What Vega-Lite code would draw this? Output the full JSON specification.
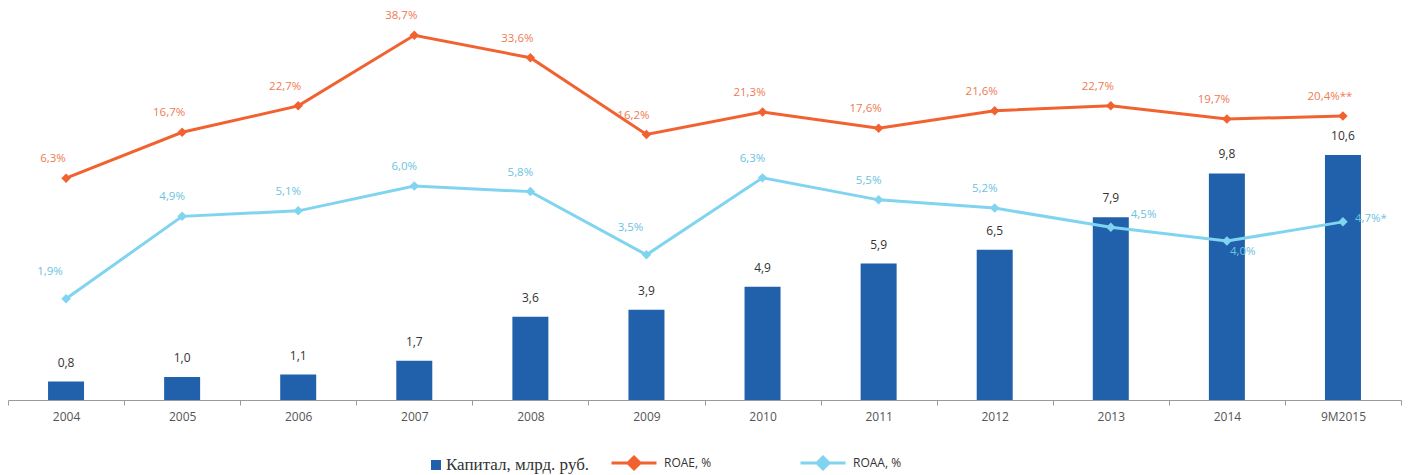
{
"$schema": "https://vega.github.io/schema/vega-lite/v6.json",
"width": 1393,
"height": 400,
"autosize": {"type": "none"},
"padding": {"left": 8, "top": 0, "right": 7, "bottom": 75},
"background": "white",
"data": {"values": [
{"year": "2004", "cap": 0.8, "roae": 6.3, "roae_lbl": "6,3%", "roaa": 1.9, "roaa_lbl": "1,9%"},
{"year": "2005", "cap": 1.0, "roae": 16.7, "roae_lbl": "16,7%", "roaa": 4.9, "roaa_lbl": "4,9%"},
{"year": "2006", "cap": 1.1, "roae": 22.7, "roae_lbl": "22,7%", "roaa": 5.1, "roaa_lbl": "5,1%"},
{"year": "2007", "cap": 1.7, "roae": 38.7, "roae_lbl": "38,7%", "roaa": 6.0, "roaa_lbl": "6,0%"},
{"year": "2008", "cap": 3.6, "roae": 33.6, "roae_lbl": "33,6%", "roaa": 5.8, "roaa_lbl": "5,8%"},
{"year": "2009", "cap": 3.9, "roae": 16.2, "roae_lbl": "16,2%", "roaa": 3.5, "roaa_lbl": "3,5%"},
{"year": "2010", "cap": 4.9, "roae": 21.3, "roae_lbl": "21,3%", "roaa": 6.3, "roaa_lbl": "6,3%"},
{"year": "2011", "cap": 5.9, "roae": 17.6, "roae_lbl": "17,6%", "roaa": 5.5, "roaa_lbl": "5,5%"},
{"year": "2012", "cap": 6.5, "roae": 21.6, "roae_lbl": "21,6%", "roaa": 5.2, "roaa_lbl": "5,2%"},
{"year": "2013", "cap": 7.9, "roae": 22.7, "roae_lbl": "22,7%", "roaa": 4.5, "roaa_lbl": "4,5%"},
{"year": "2014", "cap": 9.8, "roae": 19.7, "roae_lbl": "19,7%", "roaa": 4.0, "roaa_lbl": "4,0%"},
{"year": "9M2015", "cap": 10.6, "roae": 20.4, "roae_lbl": "20,4%**", "roaa": 4.7, "roaa_lbl": "4,7%*"}
]},
"encoding": {
  "x": {"field": "year", "type": "ordinal", "sort": null,
    "scale": {"paddingInner": 0, "paddingOuter": 0},
    "axis": {"title": null, "labelAngle": 0, "labelFont": "Open Sans", "labelFontSize": 12, "labelColor": "#555555",
      "domainColor": "#9a9a9a", "tickColor": "#9a9a9a", "tickSize": 5, "tickBand": "extent", "labelPadding": 6, "grid": false}}
},
"layer": [
  {"mark": {"type": "bar", "width": 36},
   "encoding": {
     "y": {"field": "cap", "type": "quantitative", "scale": {"domain": [0, 17.3], "nice": false, "zero": true}, "axis": null},
     "color": {"datum": "Капитал, млрд. руб.", "type": "nominal",
       "scale": {"domain": ["Капитал, млрд. руб.", "ROAE, %", "ROAA, %"], "range": ["#2160aa", "#f26130", "#80d4ef"]},
       "legend": {"title": null, "orient": "none", "legendX": 422, "legendY": 457, "direction": "horizontal",
         "symbolSize": 100, "columnPadding": 15, "labelColor": "#333333",
         "encode": {
           "symbols": {"update": {
             "shape": {"signal": "datum.value == 'Капитал, млрд. руб.' ? 'M-1,-1H1V1H-1Z' : datum.value == 'ROAA, %' ? 'M13.5,0H22.5M18,-1.2L19.2,0L18,1.2L16.8,0Z' : 'M-4.5,0H4.5M0,-1.2L1.2,0L0,1.2L-1.2,0Z'"},
             "fill": {"scale": "color", "field": "value"},
             "stroke": {"scale": "color", "field": "value"},
             "strokeWidth": {"signal": "datum.value == 'Капитал, млрд. руб.' ? 0 : 3"}
           }},
           "labels": {"update": {
             "font": {"signal": "datum.value == 'Капитал, млрд. руб.' ? 'Liberation Serif' : 'Open Sans'"},
             "fontSize": {"signal": "datum.value == 'Капитал, млрд. руб.' ? 17 : 12"},
             "dx": {"signal": "datum.value == 'Капитал, млрд. руб.' ? 0 : datum.value == 'ROAA, %' ? 110 : 20"}
           }}
         }}}
   }},
  {"mark": {"type": "text", "font": "Open Sans", "fontSize": 12, "color": "#333333", "baseline": "middle", "dy": -19},
   "encoding": {
     "y": {"field": "cap", "type": "quantitative", "scale": {"domain": [0, 17.3], "nice": false, "zero": true}, "axis": null},
     "text": {"field": "cap", "type": "quantitative", "format": ".1f"}
   }},
  {"mark": {"type": "line", "strokeWidth": 3, "point": {"filled": true, "shape": "diamond", "size": 90, "color": "#f26130"}},
   "encoding": {
     "y": {"field": "roae", "type": "quantitative", "scale": {"domain": [-44.0, 46.7], "nice": false, "zero": false}, "axis": null},
     "color": {"datum": "ROAE, %", "type": "nominal"}
   }},
  {"mark": {"type": "text", "font": "Open Sans", "fontSize": 11.5, "color": "#f07a52", "baseline": "middle", "dx": -13, "dy": -19},
   "encoding": {
     "y": {"field": "roae", "type": "quantitative", "scale": {"domain": [-44.0, 46.7], "nice": false, "zero": false}, "axis": null},
     "text": {"field": "roae_lbl"}
   }},
  {"mark": {"type": "line", "strokeWidth": 3, "point": {"filled": true, "shape": "diamond", "size": 90, "color": "#80d4ef"}},
   "encoding": {
     "y": {"field": "roaa", "type": "quantitative", "scale": {"domain": [-1.78, 12.77], "nice": false, "zero": false}, "axis": null},
     "color": {"datum": "ROAA, %", "type": "nominal"}
   }},
  {"transform": [{"filter": {"field": "year", "oneOf": ["2005", "2006", "2007", "2008", "2010", "2011", "2012"]}}],
   "mark": {"type": "text", "font": "Open Sans", "fontSize": 11.5, "color": "#6cc3e0", "baseline": "middle", "dx": -10, "dy": -19},
   "encoding": {
     "y": {"field": "roaa", "type": "quantitative", "scale": {"domain": [-1.78, 12.77], "nice": false, "zero": false}, "axis": null},
     "text": {"field": "roaa_lbl"}
   }},
  {"transform": [{"filter": {"field": "year", "oneOf": ["2004", "2009"]}}],
   "mark": {"type": "text", "font": "Open Sans", "fontSize": 11.5, "color": "#6cc3e0", "baseline": "middle", "dx": -16, "dy": -27},
   "encoding": {
     "y": {"field": "roaa", "type": "quantitative", "scale": {"domain": [-1.78, 12.77], "nice": false, "zero": false}, "axis": null},
     "text": {"field": "roaa_lbl"}
   }},
  {"transform": [{"filter": {"field": "year", "oneOf": ["2013"]}}],
   "mark": {"type": "text", "font": "Open Sans", "fontSize": 11.5, "color": "#6cc3e0", "baseline": "middle", "align": "left", "dx": 20, "dy": -12},
   "encoding": {
     "y": {"field": "roaa", "type": "quantitative", "scale": {"domain": [-1.78, 12.77], "nice": false, "zero": false}, "axis": null},
     "text": {"field": "roaa_lbl"}
   }},
  {"transform": [{"filter": {"field": "year", "oneOf": ["2014"]}}],
   "mark": {"type": "text", "font": "Open Sans", "fontSize": 11.5, "color": "#6cc3e0", "baseline": "middle", "align": "left", "dx": 3, "dy": 11},
   "encoding": {
     "y": {"field": "roaa", "type": "quantitative", "scale": {"domain": [-1.78, 12.77], "nice": false, "zero": false}, "axis": null},
     "text": {"field": "roaa_lbl"}
   }},
  {"transform": [{"filter": {"field": "year", "oneOf": ["9M2015"]}}],
   "mark": {"type": "text", "font": "Open Sans", "fontSize": 11.5, "color": "#6cc3e0", "baseline": "middle", "align": "left", "dx": 12, "dy": -3},
   "encoding": {
     "y": {"field": "roaa", "type": "quantitative", "scale": {"domain": [-1.78, 12.77], "nice": false, "zero": false}, "axis": null},
     "text": {"field": "roaa_lbl"}
   }}
],
"resolve": {"scale": {"y": "independent"}},
"config": {
  "view": {"stroke": null},
  "locale": {"number": {"decimal": ",", "thousands": " ", "grouping": [3], "currency": ["", ""]}}
}
}
